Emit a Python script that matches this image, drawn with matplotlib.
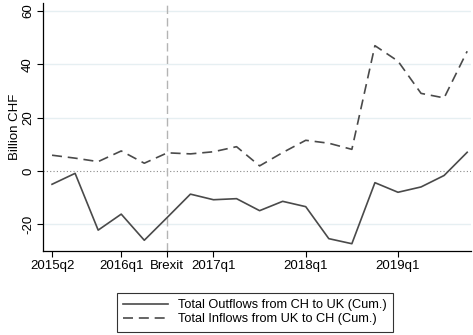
import numpy as np
import matplotlib
matplotlib.use('Agg')
import matplotlib.pyplot as plt

plt.rcParams['font.family'] = ['Liberation Sans', 'DejaVu Sans']

# quarterly cumulative flows, 2015q2 .. 2019q4 (billion CHF)
quarters = ['2015q2', '2015q3', '2015q4', '2016q1', '2016q2', '2016q3', '2016q4',
            '2017q1', '2017q2', '2017q3', '2017q4', '2018q1', '2018q2', '2018q3',
            '2018q4', '2019q1', '2019q2', '2019q3', '2019q4']
outflows = [-5.0, -0.9, -22.2, -16.2, -26.0, -17.4, -8.7, -10.8, -10.4, -14.9,
            -11.4, -13.4, -25.4, -27.3, -4.4, -8.0, -6.0, -1.7, 7.0]
inflows = [5.9, 4.8, 3.5, 7.5, 2.9, 6.8, 6.4, 7.2, 9.1, 1.9,
           6.9, 11.5, 10.4, 8.1, 47.0, 41.2, 29.1, 27.4, 44.9]

tick_quarters = ['2015q2', '2016q1', '2016q3', '2017q1', '2018q1', '2019q1']
tick_labels = ['2015q2', '2016q1', 'Brexit', '2017q1', '2018q1', '2019q1']
brexit = '2016q3'

x = np.arange(len(quarters))
line_col = '#4a4a4a'

fig = plt.figure(figsize=(4.73, 3.35), dpi=100)
ax = fig.add_axes([0.091, 0.251, 0.904, 0.74])

for y in [-20, 20, 40, 60]:
    ax.axhline(y, color='#e6eff2', lw=1.0, zorder=0)
ax.axhline(0, color='#8a8a8a', lw=0.8, ls=(0, (1, 2)), zorder=1)
ax.axvline(quarters.index(brexit), color='#b4b4b4', lw=1.0, ls=(0, (6, 3)), zorder=1)

ax.plot(x, outflows, color=line_col, lw=1.2, label='Total Outflows from CH to UK (Cum.)')
ax.plot(x, inflows, color=line_col, lw=1.2, ls=(0, (6, 3.5)),
        label='Total Inflows from UK to CH (Cum.)')

ax.set_xlim(-0.39, 18.15)
ax.set_ylim(-30, 63)
ax.set_xticks([quarters.index(q) for q in tick_quarters])
ax.set_xticklabels(tick_labels, fontsize=9.5)
ax.set_yticks([-20, 0, 20, 40, 60])
ax.set_yticklabels(['-20', '0', '20', '40', '60'], fontsize=9.5, rotation=90, va='center')
ax.tick_params(length=4, width=0.8, color='black', pad=2.5)
ax.set_ylabel('Billion CHF', fontsize=9.5, labelpad=1)

for s in ['top', 'right']:
    ax.spines[s].set_visible(False)
for s in ['left', 'bottom']:
    ax.spines[s].set_linewidth(0.9)

handles, labels = ax.get_legend_handles_labels()
leg = fig.legend(handles, labels, loc='center', bbox_to_anchor=(0.539, 0.068),
                 fontsize=9.2, frameon=True, fancybox=False, handlelength=3.45,
                 borderpad=0.5, labelspacing=0.15, handletextpad=0.8,
                 borderaxespad=0)
leg.get_frame().set_edgecolor('black')
leg.get_frame().set_linewidth(0.8)

fig.savefig('out.png', dpi=100)
